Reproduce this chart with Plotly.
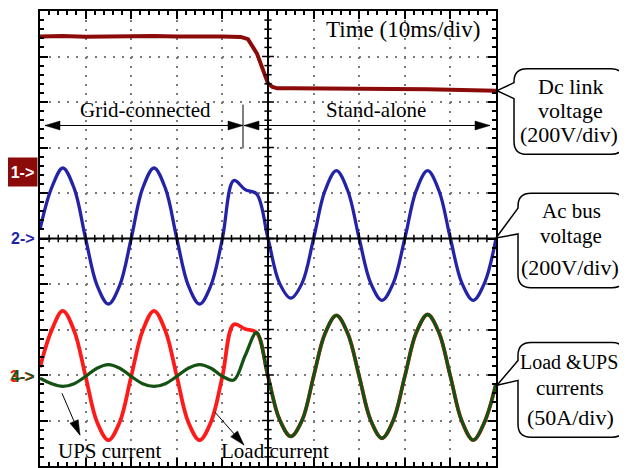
import math
import plotly.graph_objects as go

# ---------------- data ----------------
time_ms = [0, 2.5, 5, 7.5, 10, 12.5, 15, 17.5, 20, 22.5, 25, 27.5, 30, 32.5, 35, 37.5,
           40, 42.5, 45, 47.5, 50, 52.5, 55, 57.5, 60, 62.5, 65, 67.5, 70, 72.5, 75, 77.5,
           80, 82.5, 85, 87.5, 90, 92.5, 95, 97.5, 100]

ac_bus_voltage_V = [40, 220, 310, 220, 0, -205, -288, -205, 0, 220, 310, 220, 0, -205, -288, -205,
                    0, 255, 215, 196, 0, -195, -262, -195, 0, 210, 298, 210, 0, -195, -272, -195,
                    0, 210, 298, 210, 0, -195, -272, -195, 0]

load_current_A = [10, 50, 72, 50, 0, -50, -70, -50, 0, 50, 72, 50, 0, -50, -70, -50,
                  0, 57, 52, 48, 0, -47, -66, -48, 0, 47, 67, 47, 0, -48, -68, -48,
                  0, 48, 68, 48, 0, -49, -70, -50, -8]

ups_current_A = [-2, -8, -11, -8, 0, 9, 13, 9, 0, -8, -11, -8, 0, 9, 13, 9,
                 0, -4, 23, 48, 0, -47, -66, -48, 0, 47, 67, 47, 0, -48, -68, -48,
                 0, 48, 68, 48, 0, -49, -70, -50, -8]

dc_time_ms = [0, 5, 10, 15, 20, 25, 30, 35, 40, 44, 45.6, 47.6, 48.9, 50, 51, 52,
              55, 60, 65, 70, 75, 80, 85, 90, 95, 100]
dc_link_voltage_V = [600, 602, 599, 601, 600, 602, 600, 601, 600, 598, 588, 524, 450, 394, 378, 372,
                     372, 372, 371, 372, 370, 369, 368, 366, 365, 362]

# channel settings (screen divisions)
VOLT_PER_DIV = 200
AMP_PER_DIV = 50
DC_OFFSET = 1.44
AC_OFFSET = 0.0
CUR_OFFSET = -3.03


def to_div(vals, offset, scale):
    return [offset + v / scale for v in vals]


fig = go.Figure()
fig.add_trace(go.Scatter(x=dc_time_ms, y=to_div(dc_link_voltage_V, DC_OFFSET, VOLT_PER_DIV),
                         mode="lines", line=dict(color="#8B0A0A", width=4), hoverinfo="skip"))
fig.add_trace(go.Scatter(x=time_ms, y=to_div(ac_bus_voltage_V, AC_OFFSET, VOLT_PER_DIV),
                         mode="lines", line=dict(color="#2323A8", width=3.3, shape="spline", smoothing=1.0),
                         hoverinfo="skip"))
fig.add_trace(go.Scatter(x=time_ms, y=to_div(load_current_A, CUR_OFFSET, AMP_PER_DIV),
                         mode="lines", line=dict(color="#FF1A1A", width=3.8, shape="spline", smoothing=1.0),
                         hoverinfo="skip"))
fig.add_trace(go.Scatter(x=time_ms, y=to_div(ups_current_A, CUR_OFFSET, AMP_PER_DIV),
                         mode="lines", line=dict(color="#145214", width=3.3, shape="spline", smoothing=1.0),
                         hoverinfo="skip"))

# --------------- layout / graticule ---------------
# page pixel frame of the graticule (the html body adds an 8px margin)
BODY = 8
L, R, T, B = 40, 496, 9, 466
W, H = 627 - BODY, 468 - BODY

axis_common = dict(showticklabels=False, zeroline=False, showline=True, linecolor="black", linewidth=2,
                   mirror="ticks", ticks="inside", ticklen=8, tickwidth=2, tickcolor="black",
                   showgrid=True, gridcolor="#7a7a7a", gridwidth=2, griddash="2px,7.1px")

fig.update_layout(
    width=W, height=H,
    margin=dict(l=L - BODY, r=W - (R - BODY), t=T - BODY, b=H - (B - BODY), pad=0),
    paper_bgcolor="white", plot_bgcolor="white",
    showlegend=False,
    xaxis=dict(range=[0, 100], dtick=10, tick0=0,
               minor=dict(ticks="inside", ticklen=4, tickwidth=1.5, tickcolor="black", dtick=2, showgrid=False),
               **axis_common),
    yaxis=dict(range=[-5, 5], dtick=1, tick0=0,
               minor=dict(ticks="inside", ticklen=4, tickwidth=1.5, tickcolor="black", dtick=0.2, showgrid=False),
               **axis_common),
)

shapes = []
# centre cross lines with tick marks
shapes.append(dict(type="line", xref="x", yref="y", x0=50, x1=50, y0=-5, y1=5,
                   line=dict(color="black", width=2), layer="above"))
shapes.append(dict(type="line", xref="x", yref="y", x0=0, x1=100, y0=0, y1=0,
                   line=dict(color="black", width=2), layer="above"))
for i in range(1, 50):
    yv = -5 + i * 0.2
    half = 1.3 if i % 5 == 0 else 0.8
    shapes.append(dict(type="line", xref="x", yref="y", x0=50 - half, x1=50 + half, y0=yv, y1=yv,
                       line=dict(color="black", width=1.5), layer="above"))
for i in range(1, 50):
    xv = i * 2
    half = 0.13 if i % 5 == 0 else 0.08
    shapes.append(dict(type="line", xref="x", yref="y", x0=xv, x1=xv, y0=-half, y1=half,
                       line=dict(color="black", width=1.5), layer="above"))


def X(px):
    return (px - L) / (R - L)


def Y(py):
    return (B - py) / (B - T)


# vertical separator bar at the mode switch
shapes.append(dict(type="line", xref="paper", yref="paper", x0=X(243), x1=X(243), y0=Y(103), y1=Y(147),
                   line=dict(color="black", width=1)))


def callout(x0, y0, x1, y1, tip, b1, b2, r=13):
    p = (f"M {X(x0)},{Y(b1)} L {X(tip[0])},{Y(tip[1])} L {X(x0)},{Y(b2)} "
         f"L {X(x0)},{Y(y1 - r)} Q {X(x0)},{Y(y1)} {X(x0 + r)},{Y(y1)} "
         f"L {X(x1 - r)},{Y(y1)} Q {X(x1)},{Y(y1)} {X(x1)},{Y(y1 - r)} "
         f"L {X(x1)},{Y(y0 + r)} Q {X(x1)},{Y(y0)} {X(x1 - r)},{Y(y0)} "
         f"L {X(x0 + r)},{Y(y0)} Q {X(x0)},{Y(y0)} {X(x0)},{Y(y0 + r)} Z")
    return dict(type="path", xref="paper", yref="paper", path=p, fillcolor="white",
                line=dict(color="black", width=1.5), layer="above")


shapes.append(callout(514, 67, 624, 153, (497, 89), 81, 97))
shapes.append(callout(518, 192, 625, 287, (496, 237), 207, 233))
shapes.append(callout(518, 342, 625, 437, (497, 385), 360, 380))


def head(tip, tail, length=15, hw=4.5):
    dx, dy = tip[0] - tail[0], tip[1] - tail[1]
    n = math.hypot(dx, dy)
    ux, uy = dx / n, dy / n
    bx, by = tip[0] - ux * length, tip[1] - uy * length
    px_, py_ = -uy * hw, ux * hw
    p = (f"M {X(tip[0])},{Y(tip[1])} L {X(bx + px_)},{Y(by + py_)} "
         f"L {X(bx - px_)},{Y(by - py_)} Z")
    return dict(type="path", xref="paper", yref="paper", path=p, fillcolor="black",
                line=dict(color="black", width=0.5), layer="above")


def arrow_px(tail, tip, both=False):
    shapes.append(dict(type="line", xref="paper", yref="paper", x0=X(tail[0]), y0=Y(tail[1]),
                       x1=X(tip[0]), y1=Y(tip[1]), line=dict(color="black", width=1), layer="above"))
    shapes.append(head(tip, tail))
    if both:
        shapes.append(head(tail, tip))


arrow_px((45, 124), (243, 124), both=True)
arrow_px((244, 124), (490, 124), both=True)
arrow_px((62, 393), (80, 435))
arrow_px((215, 412), (244, 445))

fig.update_layout(shapes=shapes)

serif_family = "Liberation Serif, Times New Roman, serif"
ann = []


def txt(x, y, s, size=21):
    ann.append(dict(x=X(x), y=Y(y), xref="paper", yref="paper", text=s, showarrow=False,
                    font=dict(family=serif_family, size=size, color="black"),
                    xanchor="center", yanchor="middle"))


txt(403, 28, "Time (10ms/div)", 23)
txt(145, 108, "Grid-connected", 21)
txt(376, 108, "Stand-alone", 21)
txt(109, 451, "UPS current", 21)
txt(275, 451, "Load current", 21)

# callout texts
txt(570, 85, "Dc link", 22)
txt(570, 109, "voltage", 22)
txt(569, 133, "(200V/div)", 22)
txt(571, 210, "Ac bus", 21)
txt(571, 235, "voltage", 21)
txt(570, 267, "(200V/div)", 22)
txt(569, 362, "Load &amp;UPS", 20)
txt(570, 388, "currents", 21)
txt(570, 417, "(50A/div)", 22)

# channel markers
sans = "Liberation Sans, Arial, sans-serif"
ann.append(dict(x=X(22.5), y=Y(171), xref="paper", yref="paper", text="<b>1-></b>", showarrow=False,
                font=dict(family=sans, size=16, color="white"), bgcolor="#8B0A0A",
                width=29, height=28, borderpad=0, xanchor="center", yanchor="middle"))
ann.append(dict(x=X(37), y=Y(237), xref="paper", yref="paper", text="<b>2-></b>", showarrow=False,
                font=dict(family=sans, size=16, color="#2323A8"), xanchor="right", yanchor="middle"))
ann.append(dict(x=X(37), y=Y(376), xref="paper", yref="paper", text="<b>3-></b>", showarrow=False,
                font=dict(family=sans, size=16, color="#FF1A1A"), xanchor="right", yanchor="middle",
                xshift=-1))
ann.append(dict(x=X(37), y=Y(376), xref="paper", yref="paper", text="<b>4-></b>", showarrow=False,
                font=dict(family=sans, size=16, color="#145214"), xanchor="right", yanchor="middle"))

fig.update_layout(annotations=ann)
fig.write_html("out.html")
